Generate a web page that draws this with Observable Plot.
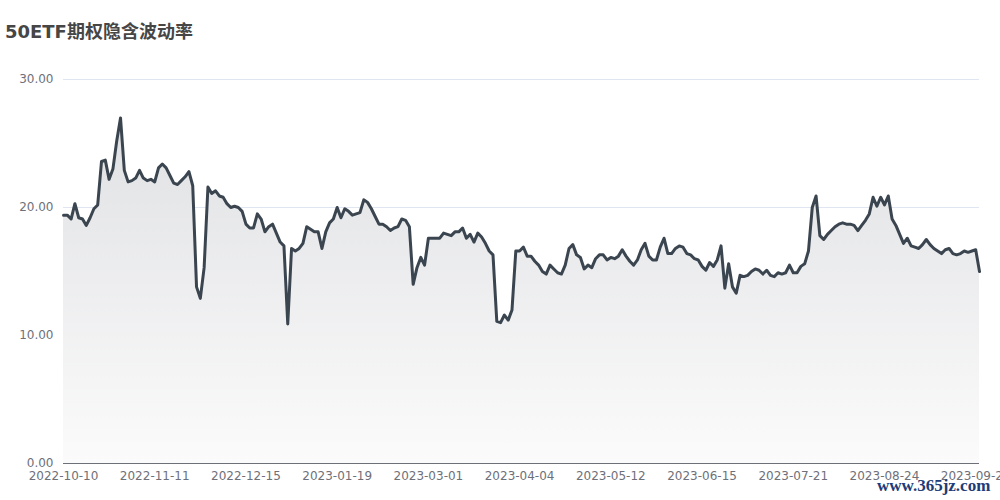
<!DOCTYPE html>
<html>
<head>
<meta charset="utf-8">
<script src="https://cdn.jsdelivr.net/npm/d3@7"></script>
<script src="https://cdn.jsdelivr.net/npm/@observablehq/plot@0.6"></script>
<style>
  html, body { margin: 0; padding: 0; background: #fff; width: 1000px; height: 500px; overflow: hidden; }
  #wrap { position: relative; width: 1000px; height: 500px; }
  #title { position: absolute; left: 5px; top: 23px; font: bold 18px "DejaVu Sans", "Noto Sans CJK SC", sans-serif; color: #464646; line-height: 1; white-space: nowrap; }
  #chart { position: absolute; left: 0; top: 0; }
  #wm { position: absolute; left: 877px; top: 476px; font: bold 17px "Liberation Serif", serif; color: #1d3c78; white-space: nowrap; }
</style>
</head>
<body>
<div id="wrap">
  <div id="chart"></div>
  <div id="title">50ETF期权隐含波动率</div>
  <div id="wm">www.365jz.com</div>
</div>
<script>
const values = [
  19.4, 19.4, 19.1, 20.3, 19.2, 19.1, 18.6, 19.2, 19.9, 20.2,
  23.6, 23.7, 22.2, 23.0, 25.2, 27.0, 22.9, 22.0, 22.1, 22.3,
  22.9, 22.3, 22.1, 22.2, 22.0, 23.1, 23.4, 23.1, 22.5, 21.9,
  21.8, 22.1, 22.4, 22.8, 21.7, 13.8, 12.9, 15.3, 21.6, 21.1,
  21.3, 20.9, 20.8, 20.3, 20.0, 20.1, 20.0, 19.7, 18.7, 18.4,
  18.4, 19.5, 19.1, 18.1, 18.5, 18.7, 18.0, 17.3, 17.0, 10.9,
  16.8, 16.6, 16.8, 17.2, 18.5, 18.3, 18.1, 18.1, 16.8, 18.1,
  18.8, 19.1, 20.0, 19.2, 19.9, 19.7, 19.4, 19.5, 19.6, 20.6,
  20.4, 19.9, 19.3, 18.7, 18.7, 18.5, 18.2, 18.4, 18.5, 19.1,
  19.0, 18.5, 14.0, 15.3, 16.1, 15.5, 17.6, 17.6, 17.6, 17.6,
  18.0, 17.9, 17.8, 18.1, 18.1, 18.4, 17.6, 17.9, 17.3, 18.0,
  17.7, 17.2, 16.6, 16.3, 11.1, 11.0, 11.6, 11.2, 12.0, 16.6,
  16.6, 16.9, 16.2, 16.2, 15.8, 15.5, 15.0, 14.8, 15.5, 15.2,
  14.9, 14.8, 15.5, 16.8, 17.1, 16.3, 16.1, 15.2, 15.5, 15.3,
  16.0, 16.3, 16.3, 15.9, 16.1, 16.0, 16.2, 16.7, 16.2, 15.8,
  15.5, 15.9, 16.7, 17.2, 16.2, 15.9, 15.9, 16.9, 17.6, 16.4,
  16.4, 16.8, 17.0, 16.9, 16.4, 16.3, 16.0, 15.9, 15.4, 15.1,
  15.7, 15.4, 15.9, 17.0, 13.7, 15.6, 13.8, 13.3, 14.7, 14.6,
  14.7, 15.0, 15.2, 15.1, 14.8, 15.1, 14.7, 14.6, 14.9, 14.8,
  14.9, 15.5, 14.9, 14.9, 15.4, 15.6, 16.6, 20.0, 20.9, 17.8,
  17.5, 17.9, 18.2, 18.5, 18.7, 18.8, 18.7, 18.7, 18.6, 18.2,
  18.6, 19.0, 19.5, 20.8, 20.1, 20.8, 20.2, 20.9, 19.1, 18.6,
  17.9, 17.2, 17.6, 17.0, 16.9, 16.8, 17.1, 17.5, 17.1, 16.8,
  16.6, 16.4, 16.7, 16.8, 16.4, 16.3, 16.4, 16.6, 16.5, 16.6,
  16.7, 15.0
];
const tickIdx = [0, 24, 48, 72, 96, 120, 144, 168, 192, 216, 240];
const tickLabels = ["2022-10-10", "2022-11-11", "2022-12-15", "2023-01-19", "2023-03-01", "2023-04-04", "2023-05-12", "2023-06-15", "2023-07-21", "2023-08-24", "2023-09-27"];
const yTicks = [0, 10, 20, 30];

const data = values.map((v, i) => ({ i, v }));

const defs = () => {
  const d = d3.create("svg:defs");
  const g = d.append("linearGradient")
    .attr("id", "ivGrad")
    .attr("gradientUnits", "userSpaceOnUse")
    .attr("x1", 0).attr("x2", 0).attr("y1", 79).attr("y2", 463);
  g.append("stop").attr("offset", "0%").attr("stop-color", "#dddee1");
  g.append("stop").attr("offset", "100%").attr("stop-color", "#fbfbfb");
  return d.node();
};

const chart = Plot.plot({
  width: 1000,
  height: 500,
  marginLeft: 63,
  marginRight: 21,
  marginTop: 79,
  marginBottom: 37,
  style: { fontFamily: "DejaVu Sans", fontSize: "12px", background: "transparent", overflow: "hidden" },
  x: { domain: [0, values.length - 1] },
  y: { domain: [0, 30] },
  marks: [
    defs,
    Plot.gridY(yTicks.filter(d => d > 0), { stroke: "#e0e6f1", strokeOpacity: 1 }),
    Plot.areaY(data, { x: "i", y: "v", fill: "url(#ivGrad)" }),
    Plot.ruleY([0], { stroke: "#6e7079", strokeWidth: 1 }),
    Plot.lineY(data, { x: "i", y: "v", stroke: "#3b4550", strokeWidth: 3, strokeLinejoin: "round" }),
    Plot.axisY({ ticks: yTicks, tickFormat: d => d.toFixed(2), tickSize: 0, tickPadding: 10, fill: "#6e7079", label: null }),
    Plot.axisX({ ticks: tickIdx, tickFormat: d => tickLabels[tickIdx.indexOf(d)], tickSize: 0, tickPadding: 8, fill: "#6e7079", label: null })
  ]
});
document.getElementById("chart").appendChild(chart);
</script>
</body>
</html>
